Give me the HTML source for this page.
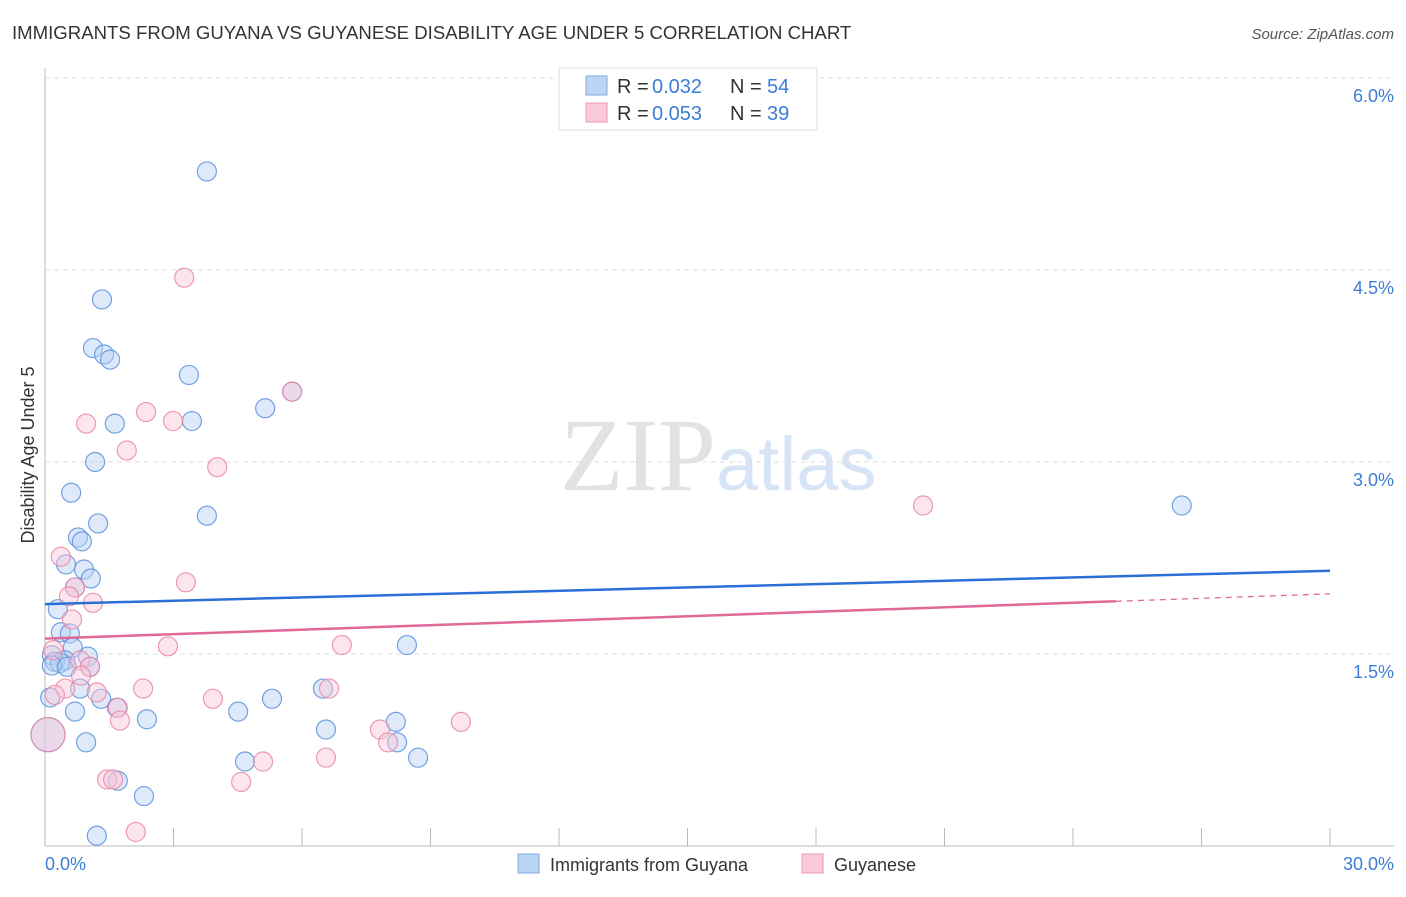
<!DOCTYPE html>
<html><head><meta charset="utf-8"><style>
body{margin:0;background:#fff;font-family:"Liberation Sans",sans-serif}
svg text{font-family:"Liberation Sans",sans-serif}
</style></head><body>
<svg id="chart" width="1406" height="892" xmlns="http://www.w3.org/2000/svg">
<text x="12" y="39" font-size="18.6" fill="#333">IMMIGRANTS FROM GUYANA VS GUYANESE DISABILITY AGE UNDER 5 CORRELATION CHART</text>
<text x="1394" y="39" font-size="15" font-style="italic" fill="#555" text-anchor="end">Source: ZipAtlas.com</text>
<text x="716" y="490" font-size="104" fill="#e2e2e2" text-anchor="end" style="font-family:'Liberation Serif',serif">ZIP</text>
<text x="716" y="490" font-size="76" fill="#d6e4f5">atlas</text>
<g id="grid"></g>
<g id="axes"></g>
<g id="points"></g>
<g id="lines"></g>
<text transform="translate(34,455) rotate(-90)" font-size="18" fill="#333" text-anchor="middle">Disability Age Under 5</text>
<text x="45" y="870" font-size="18" fill="#3b7dd8">0.0%</text>
<text x="1394" y="870" font-size="18" fill="#3b7dd8" text-anchor="end">30.0%</text>
<g>
<rect x="559" y="68" width="258" height="62" fill="#fff" stroke="#ddd"/>
<rect x="586" y="76" width="21" height="19" fill="#bcd5f5" stroke="#7fa9e3"/>
<rect x="586" y="103" width="21" height="19" fill="#f9cbd9" stroke="#ee9ab4"/>
<text x="617" y="93" font-size="20" fill="#333">R =</text><text x="652" y="93" font-size="20" fill="#3b7dd8">0.032</text>
<text x="730" y="93" font-size="20" fill="#333">N =</text><text x="767" y="93" font-size="20" fill="#3b7dd8">54</text>
<text x="617" y="120" font-size="20" fill="#333">R =</text><text x="652" y="120" font-size="20" fill="#3b7dd8">0.053</text>
<text x="730" y="120" font-size="20" fill="#333">N =</text><text x="767" y="120" font-size="20" fill="#3b7dd8">39</text>
</g>
<g>
<rect x="518" y="854" width="21" height="19" fill="#bcd5f5" stroke="#7fa9e3"/>
<text x="550" y="871" font-size="18" fill="#333">Immigrants from Guyana</text>
<rect x="802" y="854" width="21" height="19" fill="#f9cbd9" stroke="#ee9ab4"/>
<text x="834" y="871" font-size="18" fill="#333">Guyanese</text>
</g>
</svg>
<script>
const yTicks=[1.5,3.0,4.5,6.0];
const yTickLabels=["1.5%","3.0%","4.5%","6.0%"];
const xTicks=[0,3,6,9,12,15,18,21,24,27,30];
const blueX=[3.78,1.33,1.12,1.38,1.52,3.36,5.77,5.14,1.63,3.43,1.17,0.61,3.78,1.24,0.77,0.86,0.91,0.49,1.07,0.70,0.30,0.37,0.58,0.65,0.16,1.00,0.47,0.23,0.35,0.16,1.05,0.51,8.45,0.82,6.49,1.31,5.30,0.12,0.70,1.68,2.38,4.51,6.56,8.19,0.96,8.22,4.67,8.71,1.70,2.31,1.21,26.54,0.07];
const blueY=[5.27,4.27,3.89,3.84,3.80,3.68,3.55,3.42,3.30,3.32,3.00,2.76,2.58,2.52,2.41,2.38,2.16,2.20,2.09,2.02,1.85,1.67,1.66,1.55,1.49,1.48,1.45,1.44,1.43,1.41,1.40,1.40,1.57,1.23,1.23,1.15,1.15,1.16,1.05,1.08,0.99,1.05,0.91,0.97,0.81,0.81,0.66,0.69,0.51,0.39,0.08,2.66,0.87];
const pinkX=[3.25,5.77,2.36,2.99,0.96,1.91,4.02,20.50,0.37,0.70,3.29,0.56,1.12,0.63,2.87,6.93,0.19,0.82,1.05,0.84,0.47,2.29,1.21,6.63,3.92,1.70,0.23,1.75,7.82,9.71,8.01,5.09,6.56,1.45,1.59,4.58,2.12,0.07];
const pinkY=[4.44,3.55,3.39,3.32,3.30,3.09,2.96,2.66,2.26,2.02,2.06,1.95,1.90,1.77,1.56,1.57,1.53,1.45,1.40,1.33,1.23,1.23,1.20,1.23,1.15,1.08,1.18,0.98,0.91,0.97,0.81,0.66,0.69,0.52,0.52,0.50,0.11,0.87];
const blueTrend=[1.89,2.15];
const pinkTrend=[1.62,1.97];
const pinkSolidEnd=25;
const NS="http://www.w3.org/2000/svg";
const X=v=>45+v/30*1285, Y=v=>846-v/1.5*192;
function mk(t,a,p){const e=document.createElementNS(NS,t);for(const k in a)e.setAttribute(k,a[k]);document.getElementById(p).appendChild(e);return e;}
yTicks.forEach((t,i)=>{
 const l=mk('line',{x1:45,x2:1394,y1:Y(t),y2:Y(t),stroke:'#ddd','stroke-dasharray':'5,4'},'grid');
 
 
 const tx=mk('text',{x:1394,y:Y(t)+24,'font-size':18,fill:'#3b7dd8','text-anchor':'end'},'grid');
 tx.textContent=yTickLabels[i];
 
 
});
const ax=mk('line',{x1:45,x2:45,y1:68,y2:846,stroke:'#bbb'},'axes');


const bx=mk('line',{x1:45,x2:1394,y1:846,y2:846,stroke:'#bbb'},'axes');


xTicks.forEach(t=>{
 const l=mk('line',{x1:X(t),x2:X(t),y1:828,y2:846,stroke:'#bbb'},'axes');
 
 
});
function pts(xs,ys,fill,stroke,name){
 xs.forEach((x,i)=>{
  const big=(i===xs.length-1);
  const c=mk('circle',{cx:X(x),cy:Y(ys[i]),r:big?17:9.5,fill:fill,'fill-opacity':0.45,stroke:stroke,'stroke-width':1.2,'stroke-opacity':0.85},'points');
  
  
 });
}
pts(blueX,blueY,'#b5d0f3','#5a92dc','point-guyana');
pts(pinkX,pinkY,'#f8c6d6','#e988a6','point-guyanese');
const bl=mk('line',{x1:X(0),y1:Y(blueTrend[0]),x2:X(30),y2:Y(blueTrend[1]),stroke:'#2a6fd6','stroke-width':2.5},'lines');


const pm=pinkTrend[0]+(pinkTrend[1]-pinkTrend[0])*pinkSolidEnd/30;
const pl=mk('line',{x1:X(0),y1:Y(pinkTrend[0]),x2:X(pinkSolidEnd),y2:Y(pm),stroke:'#e0699a','stroke-width':2.5},'lines');


const pd=mk('line',{x1:X(pinkSolidEnd),y1:Y(pm),x2:X(30),y2:Y(pinkTrend[1]),stroke:'#e0699a','stroke-width':1.3,'stroke-dasharray':'6,5'},'lines');


</script>
</body></html>
